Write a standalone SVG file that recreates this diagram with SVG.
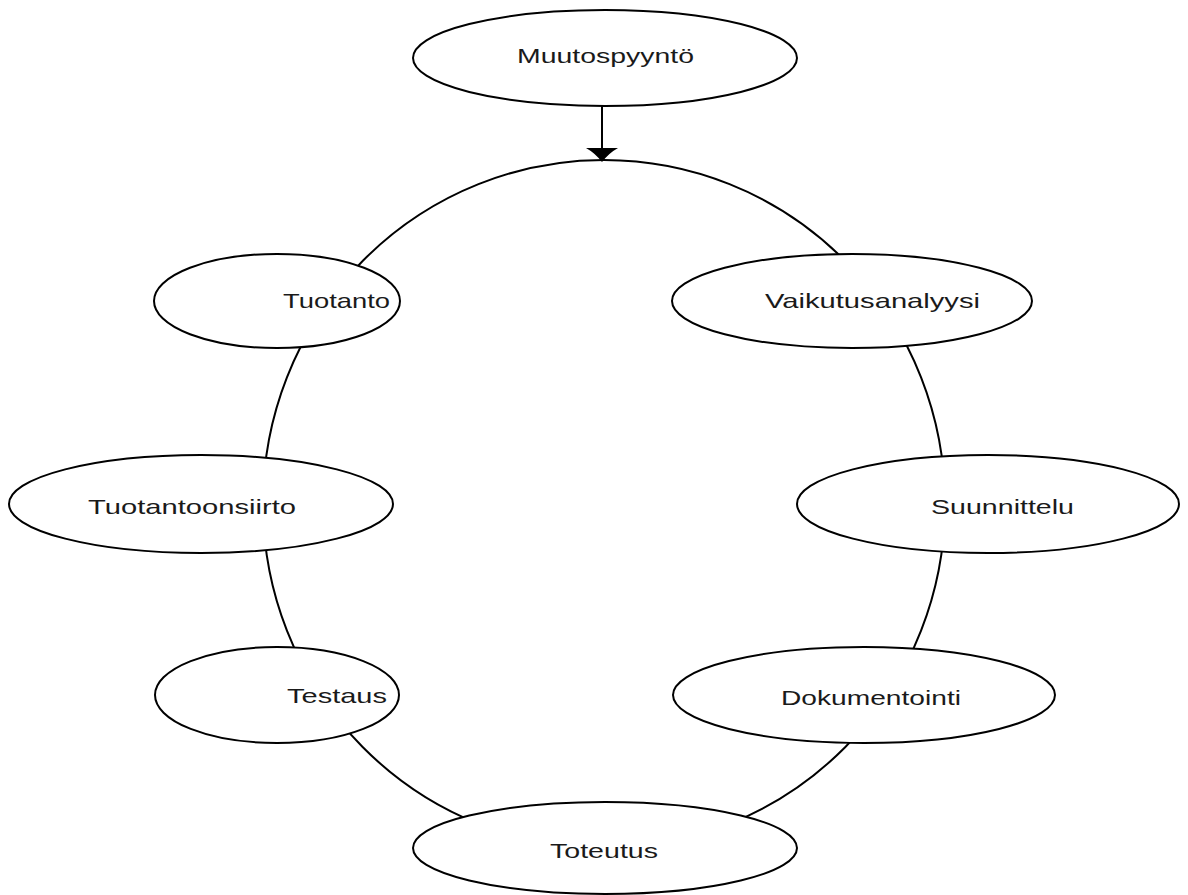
<svg xmlns="http://www.w3.org/2000/svg" width="1188" height="895" viewBox="0 0 1188 895">
  <style>
    .node { fill: #ffffff; stroke: #000000; stroke-width: 2; }
    .ring { fill: none; stroke: #000000; stroke-width: 2; }
    .edge { stroke: #000000; stroke-width: 2; fill: none; }
    .label { font-family: "Liberation Sans", Arial, sans-serif; font-size: 21px; fill: #1a1a1a; }
  </style>
  <defs>
    <marker id="arrowhead" markerUnits="userSpaceOnUse" markerWidth="34" markerHeight="16" refX="16" refY="14" orient="auto-start-reverse" viewBox="0 0 34 16">
      <path d="M0,0 L32,0 Q22,5 16,14 Q10,5 0,0 Z" fill="#000000"/>
    </marker>
  </defs>
  <rect x="0" y="0" width="1188" height="895" fill="#ffffff"/>

  <!-- connectors: the process cycle and the incoming request arrow -->
  <g id="connectors">
    <ellipse class="ring" cx="604" cy="504" rx="341" ry="344"/>
    <path class="edge" d="M602,106 L602,148" />
    <path d="M586,148 L618,148 Q609,153 602,162 Q595,153 586,148 Z" fill="#000000"/>
  </g>

  <g id="muutospyynto">
    <ellipse class="node" cx="605" cy="58" rx="192" ry="48"/>
    <text class="label" x="517" y="63" textLength="177" lengthAdjust="spacingAndGlyphs">Muutospyyntö</text>
  </g>

  <g id="tuotanto">
    <ellipse class="node" cx="277" cy="301" rx="123" ry="47"/>
    <text class="label" x="283" y="308" textLength="107" lengthAdjust="spacingAndGlyphs">Tuotanto</text>
  </g>

  <g id="vaikutusanalyysi">
    <ellipse class="node" cx="852" cy="301" rx="180" ry="47"/>
    <text class="label" x="765" y="308" textLength="215" lengthAdjust="spacingAndGlyphs">Vaikutusanalyysi</text>
  </g>

  <g id="tuotantoonsiirto">
    <ellipse class="node" cx="201" cy="504" rx="192" ry="49"/>
    <text class="label" x="88" y="514" textLength="208" lengthAdjust="spacingAndGlyphs">Tuotantoonsiirto</text>
  </g>

  <g id="suunnittelu">
    <ellipse class="node" cx="988" cy="504" rx="191" ry="49"/>
    <text class="label" x="931" y="514" textLength="143" lengthAdjust="spacingAndGlyphs">Suunnittelu</text>
  </g>

  <g id="testaus">
    <ellipse class="node" cx="277" cy="695" rx="122" ry="48"/>
    <text class="label" x="287" y="703" textLength="100" lengthAdjust="spacingAndGlyphs">Testaus</text>
  </g>

  <g id="dokumentointi">
    <ellipse class="node" cx="864" cy="695" rx="191" ry="48"/>
    <text class="label" x="781" y="705" textLength="180" lengthAdjust="spacingAndGlyphs">Dokumentointi</text>
  </g>

  <g id="toteutus">
    <ellipse class="node" cx="605" cy="848" rx="192" ry="46"/>
    <text class="label" x="550" y="858" textLength="108" lengthAdjust="spacingAndGlyphs">Toteutus</text>
  </g>
</svg>
